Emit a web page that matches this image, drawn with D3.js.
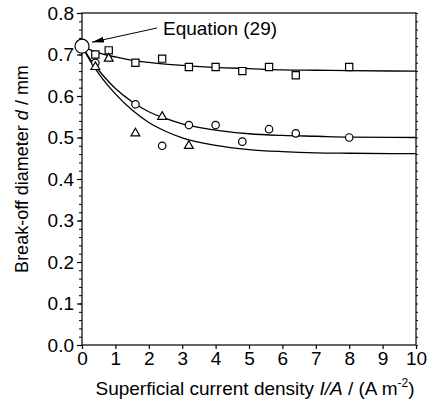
<!DOCTYPE html>
<html>
<head>
<meta charset="utf-8">
<script src="https://cdn.jsdelivr.net/npm/d3@7"></script>
<style>
  body { margin: 0; background: #fff; }
  svg { font-family: "Liberation Sans", Arial, sans-serif; }
</style>
</head>
<body>
<script>
// measured points (x = I/A in A m^-2, y = d in mm)
const squareX = [0.4, 0.8, 1.6, 2.4, 3.2, 4.0, 4.8, 5.6, 6.4, 8.0]
const squareY = [0.70, 0.71, 0.68, 0.69, 0.67, 0.67, 0.66, 0.67, 0.65, 0.67]
const circleX = [0.4, 1.6, 2.4, 3.2, 4.0, 4.8, 5.6, 6.4, 8.0]
const circleY = [0.68, 0.58, 0.48, 0.53, 0.53, 0.49, 0.52, 0.51, 0.50]
const triangleX = [0.4, 0.8, 1.6, 2.4, 3.2]
const triangleY = [0.67, 0.69, 0.51, 0.55, 0.48]

// fitted curves
const curveX = [0, 0.25, 0.5, 1, 1.5, 2, 2.5, 3, 4, 5, 6, 7, 8, 10]
const curveTop = [0.72, 0.711, 0.704, 0.694, 0.686, 0.681, 0.677, 0.674, 0.669, 0.666, 0.663, 0.662, 0.661, 0.660]
const curveMid = [0.72, 0.688, 0.662, 0.618, 0.586, 0.562, 0.546, 0.533, 0.518, 0.509, 0.505, 0.503, 0.501, 0.500]
const curveLow = [0.72, 0.684, 0.654, 0.605, 0.566, 0.536, 0.515, 0.499, 0.481, 0.471, 0.466, 0.463, 0.462, 0.461]

const eqPoint = [0, 0.72]
const xTicks = [0, 1, 2, 3, 4, 5, 6, 7, 8, 9, 10]
const yTicks = [0.0, 0.1, 0.2, 0.3, 0.4, 0.5, 0.6, 0.7, 0.8]

const width = 437
const height = 404
const margin = { top: 13, right: 21, bottom: 59, left: 82 }
const fontSize = 19

const svg = d3.select('body').append('svg').attr('width', width).attr('height', height)

const xScale = d3.scaleLinear().domain([0, 10]).range([margin.left, width - margin.right])
const yScale = d3.scaleLinear().domain([0, 0.8]).range([height - margin.bottom, margin.top])

const minorY = d3.range(0, 41).map((i) => i * 0.02)

// frame
svg.append('rect')
    .attr('x', xScale(0)).attr('y', yScale(0.8))
    .attr('width', xScale(10) - xScale(0)).attr('height', yScale(0) - yScale(0.8))
    .attr('fill', 'none').attr('stroke', '#000').attr('stroke-width', 1.2)

// left axis
const yAxis = d3.axisLeft(yScale).tickValues(yTicks).tickFormat(d3.format('.1f')).tickSize(5).tickPadding(3)
const gy = svg.append('g').attr('transform', `translate(${xScale(0)},0)`).call(yAxis)
gy.selectAll('text').attr('font-size', fontSize).attr('font-family', '"Liberation Sans", Arial, sans-serif').attr('fill', '#000')
gy.select('.domain').remove()
gy.selectAll('.tick line').attr('stroke-width', 1.2)
const gyMinor = svg.append('g').attr('transform', `translate(${xScale(0)},0)`)
    .call(d3.axisLeft(yScale).tickValues(minorY).tickFormat('').tickSize(3))
gyMinor.select('.domain').remove()

// right axis minor ticks
const gr = svg.append('g').attr('transform', `translate(${xScale(10)},0)`)
    .call(d3.axisRight(yScale).tickValues(minorY).tickFormat('').tickSize(2))
gr.select('.domain').remove()

// bottom axis
const xAxis = d3.axisBottom(xScale).tickValues(xTicks).tickFormat(d3.format('d')).tickSize(4).tickPadding(3)
const gx = svg.append('g').attr('transform', `translate(0,${yScale(0)})`).call(xAxis)
gx.selectAll('text').attr('font-size', fontSize).attr('font-family', '"Liberation Sans", Arial, sans-serif').attr('fill', '#000')
gx.select('.domain').remove()
gx.selectAll('.tick line').attr('stroke-width', 1.2)

// fitted curves
const line = d3.line().x((d) => xScale(d[0])).y((d) => yScale(d[1])).curve(d3.curveMonotoneX)
;[curveTop, curveMid, curveLow].forEach((c) => {
    svg.append('path')
        .datum(curveX.map((x, i) => [x, c[i]]))
        .attr('d', line)
        .attr('fill', 'none').attr('stroke', '#000').attr('stroke-width', 1.3)
})

// markers
const marker = (xs, ys, type, size) => {
    svg.append('g').selectAll('path')
        .data(xs.map((x, i) => [x, ys[i]]))
        .enter().append('path')
        .attr('d', d3.symbol().type(type).size(size))
        .attr('transform', (d) => `translate(${xScale(d[0])},${yScale(d[1])})`)
        .attr('fill', '#fff').attr('stroke', '#000').attr('stroke-width', 1.2)
}
marker(squareX, squareY, d3.symbolSquare, 52)
marker(circleX, circleY, d3.symbolCircle, 44)
marker(triangleX, triangleY, d3.symbolTriangle, 34)

svg.append('circle')
    .attr('cx', xScale(eqPoint[0])).attr('cy', yScale(eqPoint[1])).attr('r', 7)
    .attr('fill', '#fff').attr('stroke', '#000').attr('stroke-width', 1.2)

// annotation
svg.append('defs').append('marker')
    .attr('id', 'arrow').attr('viewBox', '0 0 12 6').attr('refX', 12).attr('refY', 3)
    .attr('markerWidth', 12).attr('markerHeight', 6).attr('markerUnits', 'userSpaceOnUse')
    .attr('orient', 'auto')
    .append('path').attr('d', 'M0,0 L12,3 L0,6 Z').attr('fill', '#000')

svg.append('line')
    .attr('x1', 157).attr('y1', 28)
    .attr('x2', xScale(eqPoint[0]) + 10).attr('y2', yScale(eqPoint[1]) - 4)
    .attr('stroke', '#000').attr('stroke-width', 1)
    .attr('marker-end', 'url(#arrow)')

svg.append('text').attr('x', 163).attr('y', 35).attr('font-size', fontSize).text('Equation (29)')

// axis titles
const xt = svg.append('text')
    .attr('x', (xScale(0) + xScale(10)) / 2 + 6).attr('y', 395)
    .attr('text-anchor', 'middle').attr('font-size', fontSize)
xt.append('tspan').text('Superficial current density ')
xt.append('tspan').attr('font-style', 'italic').text('I/A')
xt.append('tspan').text(' / (A m')
xt.append('tspan').attr('font-size', 12).attr('dy', -8).text('-2')
xt.append('tspan').attr('dy', 8).text(')')

const yt = svg.append('text')
    .attr('transform', `translate(28,169) rotate(-90)`)
    .attr('text-anchor', 'middle').attr('font-size', 18)
yt.append('tspan').text('Break-off diameter ')
yt.append('tspan').attr('font-style', 'italic').text('d')
yt.append('tspan').text(' / mm')
</script>
</body>
</html>
